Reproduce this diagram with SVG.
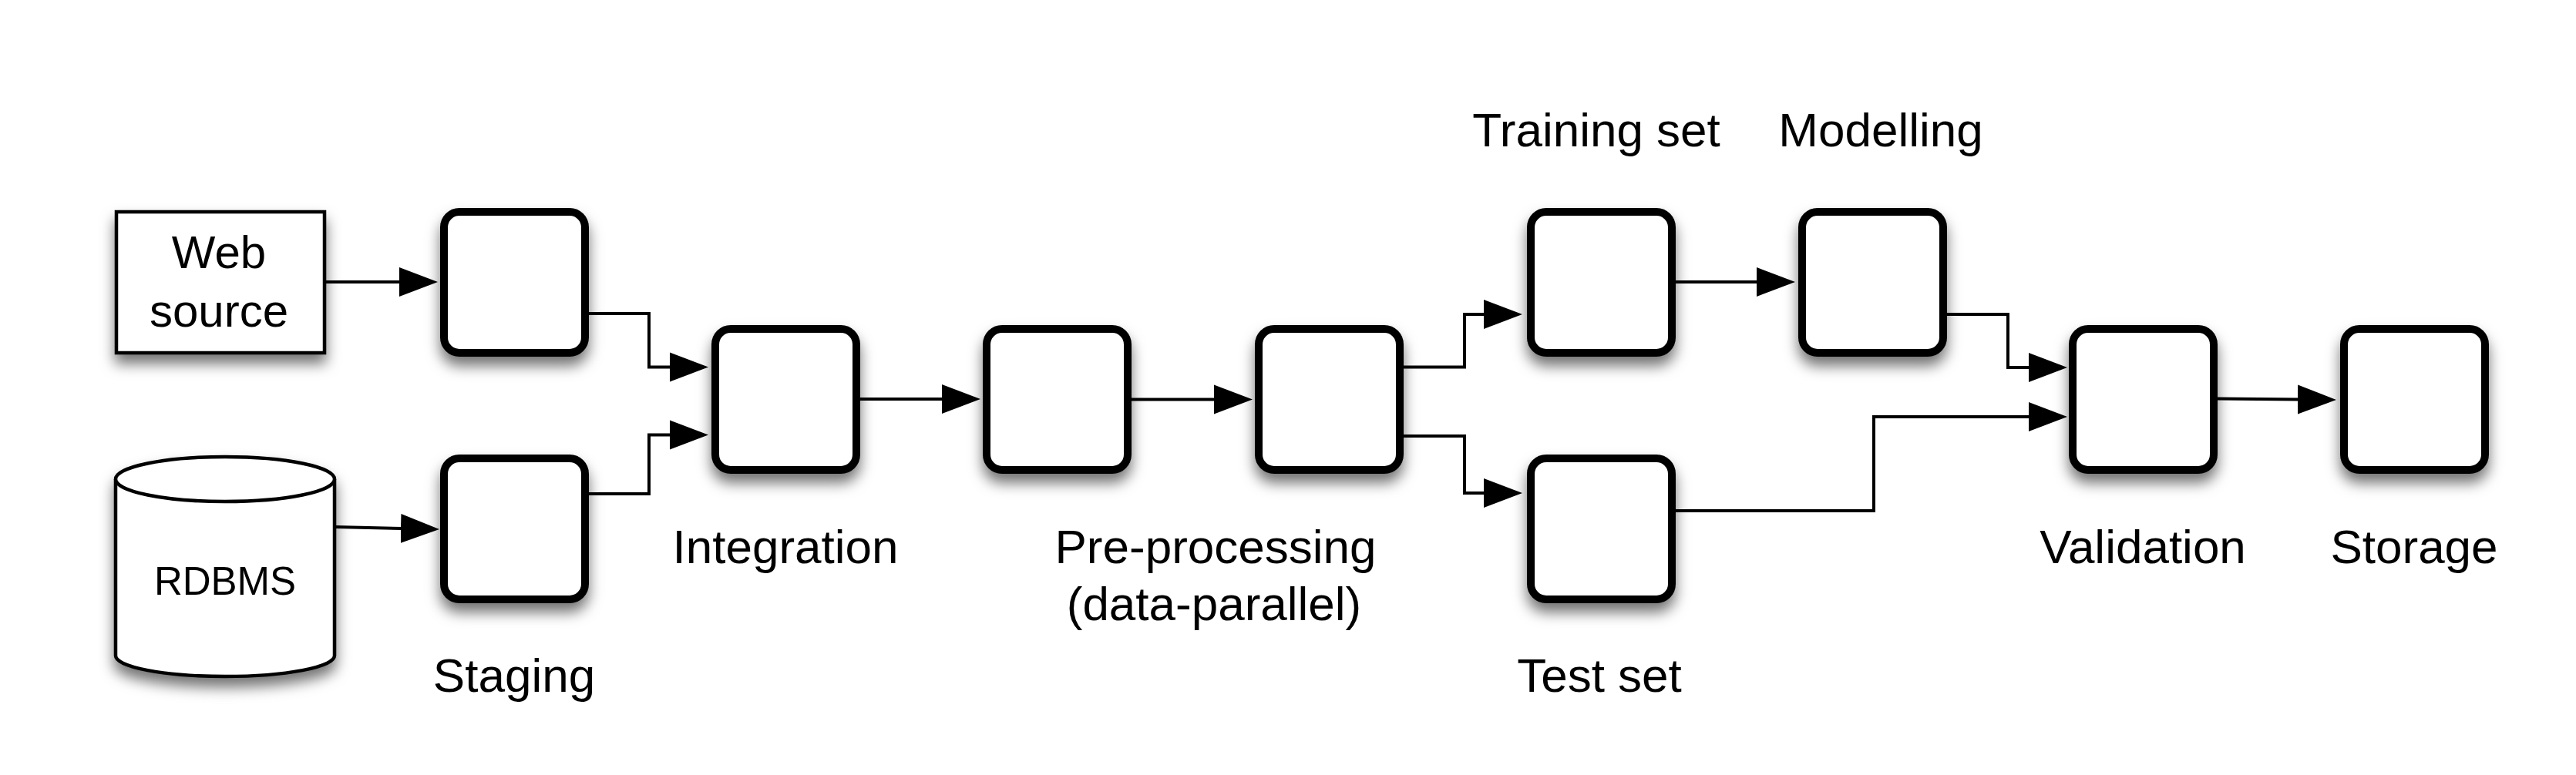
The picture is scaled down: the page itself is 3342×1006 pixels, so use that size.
<svg xmlns="http://www.w3.org/2000/svg" width="3342" height="1006" viewBox="0 0 3342 1006">
  <style>
    .box { fill: #ffffff; stroke: #000000; stroke-width: 10; }
    .src { fill: #ffffff; stroke: #000000; stroke-width: 4.5; }
    .conn { fill: none; stroke: #000000; stroke-width: 4; marker-end: url(#arrow); }
    .lbl { font-family: "Liberation Sans", Arial, Helvetica, sans-serif; font-size: 62px; fill: #000000; text-anchor: middle; }
    .inner { font-family: "Liberation Sans", Arial, Helvetica, sans-serif; fill: #000000; text-anchor: middle; }
  </style>
  <defs>
    <filter id="shadow" x="-20%" y="-20%" width="140%" height="150%">
      <feDropShadow dx="0" dy="12" stdDeviation="9" flood-color="#000000" flood-opacity="0.55"/>
    </filter>
    <marker id="arrow" markerUnits="userSpaceOnUse" markerWidth="52" markerHeight="40" refX="2" refY="20" orient="auto">
      <path d="M0,1 L50,20 L0,39 Z" fill="#000000"/>
    </marker>
  </defs>
  <rect width="3342" height="1006" fill="#ffffff"/>

  <g id="connectors">
    <path class="conn" d="M423,366 L520,366"/>
    <path class="conn" d="M436,684 L522,686"/>
    <path class="conn" d="M764,407 L842,407 L842,476.5 L871,476.5"/>
    <path class="conn" d="M764,641 L842,641 L842,564.5 L871,564.5"/>
    <path class="conn" d="M1114,518 L1224,518"/>
    <path class="conn" d="M1467,518.5 L1577,518.5"/>
    <path class="conn" d="M1820,476.5 L1900,476.5 L1900,408 L1927,408"/>
    <path class="conn" d="M1820,566 L1900,566 L1900,640 L1927,640"/>
    <path class="conn" d="M2173,366 L2281,366"/>
    <path class="conn" d="M2524,408 L2605,408 L2605,477 L2634,477"/>
    <path class="conn" d="M2173,663 L2431,663 L2431,541 L2634,541"/>
    <path class="conn" d="M2877,517.5 L2983,518.5"/>
  </g>

  <g id="web-source">
    <rect class="src" x="151" y="275" width="270" height="183" filter="url(#shadow)"/>
    <text class="inner" x="284" y="348" font-size="60">Web</text>
    <text class="inner" x="284" y="424" font-size="60">source</text>
  </g>

  <g id="rdbms">
    <path class="src" filter="url(#shadow)" d="M150,622 A142,29 0 0 1 434,622 L434,851 A142,27 0 0 1 150,851 Z"/>
    <path class="src" d="M150,622 A142,29 0 0 0 434,622" fill="none"/>
    <text class="inner" x="292" y="772" font-size="51">RDBMS</text>
  </g>

  <g id="staging-top">
    <rect class="box" x="576" y="275" width="183" height="183" rx="20" filter="url(#shadow)"/>
  </g>
  <g id="staging-bottom">
    <rect class="box" x="576" y="595" width="183" height="183" rx="20" filter="url(#shadow)"/>
    <text class="lbl" x="667" y="898">Staging</text>
  </g>

  <g id="integration">
    <rect class="box" x="928" y="427" width="183" height="183" rx="20" filter="url(#shadow)"/>
    <text class="lbl" x="1019" y="731">Integration</text>
  </g>

  <g id="preprocessing-1">
    <rect class="box" x="1280" y="427" width="183" height="183" rx="20" filter="url(#shadow)"/>
  </g>
  <g id="preprocessing-2">
    <rect class="box" x="1633" y="427" width="183" height="183" rx="20" filter="url(#shadow)"/>
    <text class="lbl" x="1577" y="731">Pre-processing</text>
    <text class="lbl" x="1575" y="805">(data-parallel)</text>
  </g>

  <g id="training-set">
    <rect class="box" x="1986" y="275" width="183" height="183" rx="20" filter="url(#shadow)"/>
    <text class="lbl" x="2071" y="190">Training set</text>
  </g>

  <g id="test-set">
    <rect class="box" x="1986" y="595" width="183" height="183" rx="20" filter="url(#shadow)"/>
    <text class="lbl" x="2075" y="898">Test set</text>
  </g>

  <g id="modelling">
    <rect class="box" x="2338" y="275" width="183" height="183" rx="20" filter="url(#shadow)"/>
    <text class="lbl" x="2440" y="190">Modelling</text>
  </g>

  <g id="validation">
    <rect class="box" x="2689" y="427" width="183" height="183" rx="20" filter="url(#shadow)"/>
    <text class="lbl" x="2780" y="731">Validation</text>
  </g>

  <g id="storage">
    <rect class="box" x="3041" y="427" width="183" height="183" rx="20" filter="url(#shadow)"/>
    <text class="lbl" x="3132" y="731">Storage</text>
  </g>
</svg>
